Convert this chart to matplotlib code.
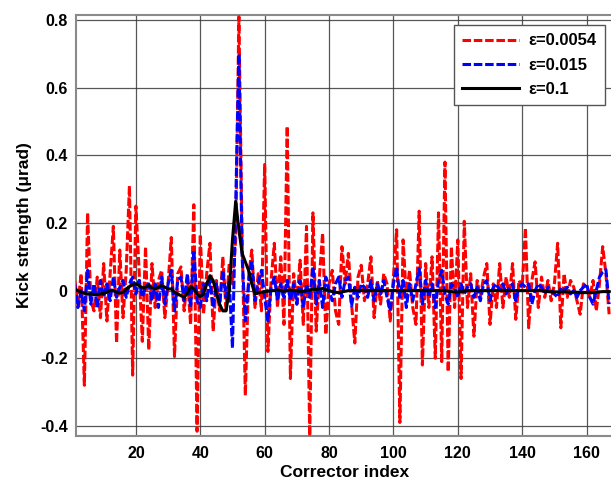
import numpy as np
import matplotlib
matplotlib.use("Agg")
import matplotlib.pyplot as plt

# Corrector kick strengths (micro-rad) for three regularisation parameters
corrector_index = list(range(1, 168))

kick_eps_0054 = [
    0.03, -0.04, 0.05, -0.28, 0.23, -0.03, -0.06, 0.04, -0.08, 0.08,
    -0.09, 0.05, 0.19, -0.155, 0.12, -0.08, 0.06, 0.31, -0.25, 0.25,
    0.06, -0.15, 0.13, -0.175, 0.08, -0.05, 0.03, 0.06, -0.08, 0.02,
    0.157, -0.195, 0.05, 0.07, -0.06, 0.04, -0.10, 0.254, -0.416, 0.166,
    -0.07, 0.05, 0.14, -0.12, 0.03, -0.06, 0.10, -0.057, 0.08, 0.02,
    0.15, 0.81, 0.15, -0.31, 0.04, 0.12, -0.05, 0.05, -0.06, 0.373,
    -0.18, 0.03, 0.14, -0.05, 0.10, -0.10, 0.486, -0.26, 0.05, -0.04,
    0.09, -0.10, 0.19, -0.43, 0.23, -0.12, 0.04, 0.17, -0.13, 0.02,
    0.06, -0.06, -0.10, 0.13, 0.02, 0.11, -0.04, -0.155, 0.04, 0.075,
    -0.03, 0.02, 0.10, -0.08, 0.03, -0.04, 0.05, 0.02, -0.09, 0.04,
    0.18, -0.39, 0.15, -0.02, 0.06, -0.05, -0.10, 0.235, -0.22, 0.08,
    -0.05, 0.10, -0.20, 0.23, -0.21, 0.38, -0.24, 0.13, -0.05, 0.15,
    -0.26, 0.205, -0.05, 0.05, -0.135, 0.03, -0.02, 0.04, 0.08, -0.10,
    0.02, -0.05, 0.08, -0.05, 0.04, -0.02, 0.08, -0.085, 0.03, 0.01,
    0.185, -0.11, 0.03, 0.085, -0.05, 0.04, -0.02, 0.03, -0.03, 0.02,
    0.14, -0.11, 0.05, -0.02, 0.03, 0.01, -0.03, -0.07, 0.02, 0.01,
    -0.02, 0.03, -0.06, 0.02, 0.13, 0.05, -0.07,
]

kick_eps_015 = [
    0.02, -0.05, 0.00, -0.06, 0.06, -0.04, 0.02, -0.05, 0.03, -0.02,
    0.02, -0.03, 0.04, -0.02, 0.01, 0.03, -0.02, 0.02, 0.04, -0.01,
    0.03, -0.02, 0.01, 0.02, -0.03, 0.02, -0.05, 0.04, -0.04, 0.02,
    0.06, -0.06, 0.03, 0.04, -0.03, 0.05, -0.05, 0.12, -0.03, -0.05,
    0.02, -0.03, 0.03, -0.05, 0.02, -0.04, 0.06, -0.02, 0.03, -0.17,
    0.25, 0.70, 0.10, -0.09, 0.02, 0.09, -0.03, 0.02, 0.06, -0.02,
    -0.09, 0.01, 0.04, -0.03, 0.02, -0.02, 0.03, -0.03, 0.02, -0.04,
    0.03, -0.05, 0.02, -0.02, 0.07, -0.04, 0.03, -0.05, 0.04, 0.00,
    -0.03, 0.02, 0.04, -0.02, 0.03, 0.04, -0.045, 0.01, -0.02, 0.02,
    0.01, -0.02, 0.03, -0.03, 0.02, -0.01, 0.03, -0.02, -0.06, 0.02,
    0.07, -0.02, 0.03, -0.05, 0.02, -0.03, 0.02, 0.065, -0.04, 0.03,
    -0.02, 0.02, -0.05, 0.03, 0.06, -0.01, -0.04, 0.02, 0.01, -0.02,
    0.02, -0.01, 0.01, 0.02, -0.02, 0.01, -0.03, 0.02, 0.03, -0.03,
    0.01, 0.02, 0.00, 0.02, -0.01, 0.01, 0.02, -0.03, 0.01, 0.02,
    0.01, 0.02, -0.04, 0.00, 0.02, 0.01, -0.01, 0.01, 0.00, -0.01,
    -0.02, 0.01, 0.00, 0.01, -0.01, 0.00, -0.02, 0.00, 0.01, 0.02,
    -0.02, -0.04, 0.00, 0.04, 0.055, 0.062, -0.04,
]

kick_eps_1 = [
    0.005, 0.000, -0.005, -0.008, -0.010, -0.010, -0.012, -0.012, -0.010, -0.008,
    -0.005, 0.000, 0.000, -0.005, -0.008, -0.005, 0.005, 0.012, 0.018, 0.020,
    0.015, 0.008, 0.010, 0.015, 0.008, 0.005, 0.010, 0.015, 0.010, 0.005,
    0.005, -0.005, -0.010, -0.015, -0.020, -0.008, 0.012, 0.005, -0.010, -0.018,
    -0.010, 0.020, 0.044, 0.030, -0.010, -0.040, -0.060, -0.060, 0.000, 0.150,
    0.264, 0.180, 0.110, 0.085, 0.060, 0.020, -0.010, -0.007, -0.005, -0.003,
    -0.002, 0.000, 0.000, 0.002, 0.000, -0.002, 0.000, 0.002, 0.000, 0.000,
    -0.003, -0.002, 0.000, 0.002, 0.004, 0.003, 0.005, 0.006, 0.003, 0.000,
    -0.003, -0.005, -0.006, -0.004, -0.002, 0.000, 0.000, 0.001, 0.000, 0.000,
    0.000, 0.000, 0.000, 0.000, 0.000, 0.000, 0.000, 0.000, 0.000, 0.000,
    0.000, 0.000, 0.000, 0.000, 0.000, 0.000, 0.000, 0.000, 0.000, 0.000,
    0.000, 0.000, 0.000, 0.000, 0.000, 0.000, -0.002, -0.003, -0.004, -0.004,
    -0.003, -0.002, 0.000, 0.000, 0.000, 0.000, 0.000, 0.000, 0.000, 0.000,
    0.000, 0.000, 0.000, 0.000, 0.000, 0.000, 0.000, 0.000, 0.000, 0.000,
    0.000, 0.000, 0.000, 0.000, 0.000, 0.000, -0.002, -0.003, -0.004, -0.004,
    -0.004, -0.004, -0.004, -0.004, -0.005, -0.005, -0.005, -0.006, -0.006, -0.006,
    -0.006, -0.006, -0.005, -0.004, -0.003, -0.003, -0.003,
]

series_labels = ["ε=0.0054", "ε=0.015", "ε=0.1"]
x_ticks = [20, 40, 60, 80, 100, 120, 140, 160]
y_ticks = [-0.4, -0.2, 0, 0.2, 0.4, 0.6, 0.8]
y_tick_labels = ["-0.4", "-0.2", "0", "0.2", "0.4", "0.6", "0.8"]

plt.rcParams["font.family"] = ["Liberation Sans", "DejaVu Sans"]

W, H = 611, 483
fig = plt.figure(figsize=(W / 100, H / 100), dpi=100)
ax = fig.add_axes([76 / W, 47 / H, (613 - 76) / W, (436 - 15) / H])

ax.plot(corrector_index, kick_eps_0054, color="#ff0000", lw=2.2,
        linestyle=(0, (2.8, 0.9)), label=series_labels[0], zorder=3)
ax.plot(corrector_index, kick_eps_015, color="#0000ff", lw=2.2,
        linestyle=(0, (2.8, 0.9)), label=series_labels[1], zorder=4)
ax.plot(corrector_index, kick_eps_1, color="#000000", lw=2.2,
        linestyle="-", label=series_labels[2], zorder=5)

ax.set_xlim(1.4, 168.2)
ax.set_ylim(-0.43, 0.815)
ax.set_xticks(x_ticks)
ax.set_yticks(y_ticks)
ax.set_yticklabels(y_tick_labels)
ax.tick_params(length=0, labelsize=11.5, pad=6)
for lab in ax.get_xticklabels() + ax.get_yticklabels():
    lab.set_fontweight("bold")
ax.tick_params(axis="x", pad=7)

ax.grid(True, color="#3a3a3a", lw=0.9, alpha=0.85)
ax.set_axisbelow(True)
for s in ax.spines.values():
    s.set_color("#8a8a8a")
    s.set_linewidth(1.5)

ax.set_xlabel("Corrector index", fontsize=12.5, fontweight="bold", labelpad=3)
ax.set_ylabel("Kick strength (μrad)", fontsize=12.5, fontweight="bold", labelpad=6)

leg = ax.legend(loc="upper right", bbox_to_anchor=(605 / W, 1 - 25 / H),
                bbox_transform=fig.transFigure, fancybox=False,
                framealpha=1, edgecolor="#555555", handlelength=3.4,
                borderpad=0.5, labelspacing=0.55, handletextpad=0.6,
                borderaxespad=0.0, prop={"weight": "bold", "size": 12})
leg.get_frame().set_linewidth(1.0)
leg.set_zorder(10)

fig.savefig("out.png", dpi=100)
